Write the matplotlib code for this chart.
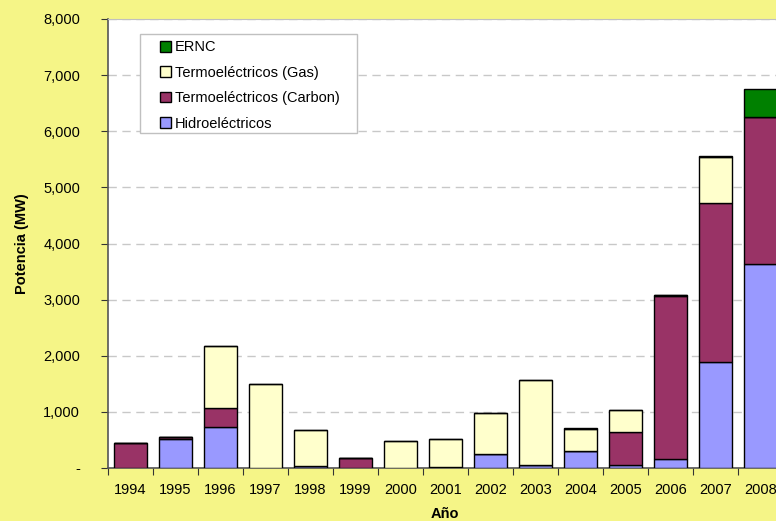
import matplotlib
matplotlib.use('agg')
import matplotlib.pyplot as plt
import numpy as np
from matplotlib.ticker import FuncFormatter, FixedLocator
from matplotlib.patches import Rectangle

plt.rcParams['font.family'] = ['Liberation Sans', 'DejaVu Sans']

# Datos
anios = ['1994', '1995', '1996', '1997', '1998', '1999', '2000', '2001',
         '2002', '2003', '2004', '2005', '2006', '2007', '2008']
hidro = [0, 515, 730, 0, 30, 0, 0, 10, 250, 50, 300, 50, 160, 1890, 3635]
carbon = [440, 40, 340, 0, 0, 185, 0, 15, 0, 0, 0, 590, 2905, 2835, 2620]
gas = [0, 0, 1110, 1500, 645, 0, 480, 495, 730, 1520, 400, 390, 20, 820, 0]
ernc = [0, 0, 0, 0, 0, 0, 0, 0, 0, 0, 15, 0, 0, 15, 500]

fondo = '#F5F587'
fig = plt.figure(figsize=(7.76, 5.21), dpi=100, facecolor=fondo)
W, H = 776, 521
ax = fig.add_axes([108 / W, 1 - 468 / H, 675 / W, 449 / H])
ax.set_facecolor('white')

x = np.arange(len(anios))
bw = 0.73
h = np.array(hidro)
c = np.array(carbon)
g = np.array(gas)
e = np.array(ernc)
kw = dict(width=bw, edgecolor='black', linewidth=1.0, zorder=3)
b1 = ax.bar(x, h, color='#9999FF', label='Hidroeléctricos', **kw)
b2 = ax.bar(x, c, bottom=h, color='#993366', label='Termoeléctricos (Carbon)', **kw)
b3 = ax.bar(x, g, bottom=h + c, color='#FFFFCC', label='Termoeléctricos (Gas)', **kw)
b4 = ax.bar(x, e, bottom=h + c + g, color='#008000', label='ERNC', **kw)

ax.set_xlim(-0.5, len(anios) - 0.5)
ax.set_ylim(0, 8000)
ax.set_yticks(np.arange(0, 8001, 1000))
ax.yaxis.set_major_formatter(FuncFormatter(lambda v, p: '-' if v == 0 else f'{int(v):,}'))
ax.xaxis.set_major_locator(FixedLocator(np.arange(-0.5, len(anios), 1)))
ax.xaxis.set_minor_locator(FixedLocator(x))
ax.set_xticklabels([])
ax.set_xticklabels(anios, minor=True)
ax.tick_params(axis='x', which='major', length=5, color='#333333', direction='out')
ax.tick_params(axis='x', which='minor', length=0, pad=11, labelsize=10.5)
ax.tick_params(axis='y', length=5, color='#333333', labelsize=10.5, pad=15)

ax.grid(axis='y', color='#C8C8C8', linestyle=(0, (6, 4)), linewidth=1.0, zorder=0)
for s in ['top', 'right']:
    ax.spines[s].set_color('#C0C0C0')
for s in ['left', 'bottom']:
    ax.spines[s].set_color('#555555')
    ax.spines[s].set_linewidth(1.2)

ax.set_ylabel('Potencia (MW)', fontsize=10.5, fontweight='bold', labelpad=10)
fig.text(445 / W, 1 - 514 / H, 'Año', fontsize=10.5, fontweight='bold',
         ha='center', va='center')

# Cuadro de la leyenda
fig.patches.append(Rectangle((140 / W, 1 - 133 / H), 217 / W, 99 / H,
                             transform=fig.transFigure, facecolor='white',
                             edgecolor='#C0C0C0', linewidth=1.0, zorder=4))
leg = fig.legend(handles=[b4, b3, b2, b1], loc='upper left',
                 bbox_to_anchor=(156 / W, 1 - 36 / H), fontsize=10.5,
                 frameon=False, handlelength=0.75, handleheight=0.75,
                 handletextpad=0.25, borderpad=0.3, labelspacing=0.78,
                 borderaxespad=0)
leg.set_zorder(5)

plt.savefig('out.png', dpi=100, facecolor=fondo)
